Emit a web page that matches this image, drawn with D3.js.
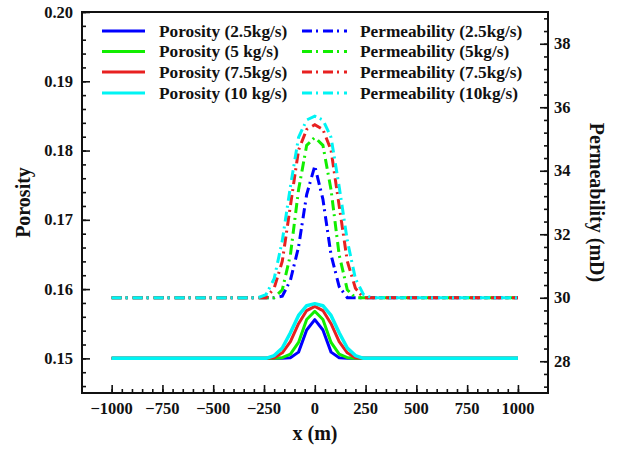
<!DOCTYPE html>
<html>
<head>
<meta charset="utf-8">
<script src="https://cdn.jsdelivr.net/npm/d3@7"></script>
<style>
  body { margin: 0; background: #fff; }
  text { font-family: "Liberation Serif", "Times New Roman", serif; font-weight: bold; fill: #111; }
</style>
</head>
<body>
<div id="chart"></div>
<script>
// x positions (m) shared by all series
var xGrid = [-1000, -280, -240, -200, -160, -120, -80, -40, 0, 40, 80, 120, 160, 200, 240, 280, 1000];

// porosity series
var por25 = [0.150, 0.150, 0.150, 0.150, 0.1500, 0.1501, 0.1509, 0.1541, 0.1556, 0.1541, 0.1509, 0.1501, 0.1500, 0.150, 0.150, 0.150, 0.150];
var por5 = [0.150, 0.150, 0.150, 0.150, 0.1501, 0.1506, 0.1523, 0.1556, 0.1568, 0.1556, 0.1523, 0.1506, 0.1501, 0.150, 0.150, 0.150, 0.150];
var por75 = [0.150, 0.150, 0.150, 0.1501, 0.1508, 0.1524, 0.1550, 0.1569, 0.1575, 0.1569, 0.1550, 0.1524, 0.1508, 0.1501, 0.150, 0.150, 0.150];
var por10 = [0.150, 0.150, 0.1500, 0.1504, 0.1515, 0.1537, 0.1562, 0.1576, 0.1579, 0.1576, 0.1562, 0.1537, 0.1515, 0.1504, 0.1500, 0.150, 0.150];

// permeability series (mD)
var perm25 = [30.0, 30.0, 30.0, 30.0, 30.05, 30.55, 31.6, 33.25, 34.15, 33.1, 31.35, 30.35, 30.0, 30.0, 30.0, 30.0, 30.0];
var perm5 = [30.0, 30.0, 30.0, 30.0, 30.25, 31.35, 33.4, 34.8, 35.05, 34.8, 33.4, 31.35, 30.25, 30.0, 30.0, 30.0, 30.0];
var perm75 = [30.0, 30.0, 30.0, 30.3, 31.15, 32.9, 34.65, 35.3, 35.45, 35.3, 34.65, 32.9, 31.15, 30.3, 30.0, 30.0, 30.0];
var perm10 = [30.0, 30.0, 30.1, 30.6, 31.8, 33.5, 35.05, 35.6, 35.72, 35.6, 35.05, 33.5, 31.8, 30.6, 30.1, 30.0, 30.0];

var porNames = ["Porosity (2.5kg/s)", "Porosity (5 kg/s)", "Porosity (7.5kg/s)", "Porosity (10 kg/s)"];
var permNames = ["Permeability (2.5kg/s)", "Permeability (5kg/s)", "Permeability (7.5kg/s)", "Permeability (10kg/s)"];
var colors = ["#0000ff", "#11ee00", "#e82020", "#00f4f4"];

var xTicks = [-1000, -750, -500, -250, 0, 250, 500, 750, 1000];
var porTicks = [0.15, 0.16, 0.17, 0.18, 0.19, 0.20];
var permTicks = [28, 30, 32, 34, 36, 38];

const W = 622, H = 449;
const margin = { top: 12, right: 74, bottom: 56, left: 82 },
  width = W - margin.left - margin.right,
  height = H - margin.top - margin.bottom;

var svg = d3.select("#chart").append("svg")
  .attr("width", W).attr("height", H)
  .append("g")
  .attr("transform", `translate(${margin.left},${margin.top})`);

const x = d3.scaleLinear().domain([-1146, 1148]).range([0, width]);
const yL = d3.scaleLinear().domain([0.145, 0.20]).range([height, 0]);
const yR = d3.scaleLinear().domain([27, 39]).range([height, 0]);

// minor ticks
var xMinor = d3.range(-1000, 1001, 50);
var porMinor = d3.range(0, 28).map(i => 0.146 + i * 0.002).filter(v => v <= 0.2001);
var permMinor = d3.range(0, 31).map(i => 27.2 + i * 0.4).filter(v => v <= 39.01);

svg.append("g").attr("transform", `translate(0,${height})`)
  .call(d3.axisTop(x).tickValues(xMinor).tickSize(4).tickFormat(""));
svg.append("g").attr("transform", `translate(0,${height})`)
  .call(d3.axisTop(x).tickValues(xTicks).tickSize(8).tickFormat(""));
svg.append("g").call(d3.axisRight(yL).tickValues(porMinor).tickSize(4).tickFormat(""));
svg.append("g").call(d3.axisRight(yL).tickValues(porTicks).tickSize(8).tickFormat(""));
svg.append("g").attr("transform", `translate(${width},0)`)
  .call(d3.axisLeft(yR).tickValues(permMinor).tickSize(4).tickFormat(""));
svg.append("g").attr("transform", `translate(${width},0)`)
  .call(d3.axisLeft(yR).tickValues(permTicks).tickSize(8).tickFormat(""));
svg.selectAll(".domain").remove();
svg.selectAll(".tick line").attr("stroke", "#111").attr("stroke-width", 1.6);

// tick labels
svg.selectAll(".xlab").data(xTicks).join("text")
  .attr("x", d => x(d)).attr("y", height + 21)
  .attr("text-anchor", "middle").style("font-size", "16.5px")
  .text(d => d < 0 ? "\u2212" + Math.abs(d) : d);
svg.selectAll(".ylab").data(porTicks).join("text")
  .attr("x", -9).attr("y", d => yL(d) + 5.5)
  .attr("text-anchor", "end").style("font-size", "16.5px")
  .text(d => d3.format(".2f")(d));
svg.selectAll(".rlab").data(permTicks).join("text")
  .attr("x", width + 6).attr("y", d => yR(d) + 5.5)
  .attr("text-anchor", "start").style("font-size", "16.5px")
  .text(d => d);

// axis titles
svg.append("text").attr("x", width / 2).attr("y", height + 47)
  .attr("text-anchor", "middle").style("font-size", "20px").text("x (m)");
svg.append("text").attr("transform", `translate(${-52},${height / 2}) rotate(-90)`)
  .attr("text-anchor", "middle").style("font-size", "20px").text("Porosity");
svg.append("text").attr("transform", `translate(${width + 42},${height / 2}) rotate(90)`)
  .attr("text-anchor", "middle").style("font-size", "20px").text("Permeability (mD)");

// curves
const linePor = d3.line().x((d, i) => x(xGrid[i])).y(d => yL(d));
const linePerm = d3.line().x((d, i) => x(xGrid[i])).y(d => yR(d));
var dash = "10 4 2 5";

[por25, por5, por75, por10].forEach((s, k) => {
  svg.append("path").datum(s).attr("d", linePor)
    .attr("fill", "none").attr("stroke", colors[k])
    .attr("stroke-width", k == 3 ? 3.5 : 3).attr("stroke-linejoin", "round");
});
[perm25, perm5, perm75, perm10].forEach((s, k) => {
  svg.append("path").datum(s).attr("d", linePerm)
    .attr("fill", "none").attr("stroke", colors[k])
    .attr("stroke-width", 3).attr("stroke-dasharray", dash);
});

// frame
svg.append("rect").attr("x", 0).attr("y", 0).attr("width", width).attr("height", height)
  .attr("fill", "none").attr("stroke", "#111").attr("stroke-width", 2);

// legend
var legY = [19, 39.5, 60, 81];
var leg = svg.append("g");
porNames.forEach((n, k) => {
  leg.append("line").attr("x1", 20).attr("x2", 63).attr("y1", legY[k]).attr("y2", legY[k])
    .attr("stroke", colors[k]).attr("stroke-width", 3);
  leg.append("text").attr("x", 77).attr("y", legY[k] + 5.5).style("font-size", "17.3px").text(n);
  leg.append("line").attr("x1", 220).attr("x2", 265).attr("y1", legY[k]).attr("y2", legY[k])
    .attr("stroke", colors[k]).attr("stroke-width", 3).attr("stroke-dasharray", dash);
  leg.append("text").attr("x", 278).attr("y", legY[k] + 5.5).style("font-size", "17.3px").text(permNames[k]);
});
</script>
</body>
</html>
